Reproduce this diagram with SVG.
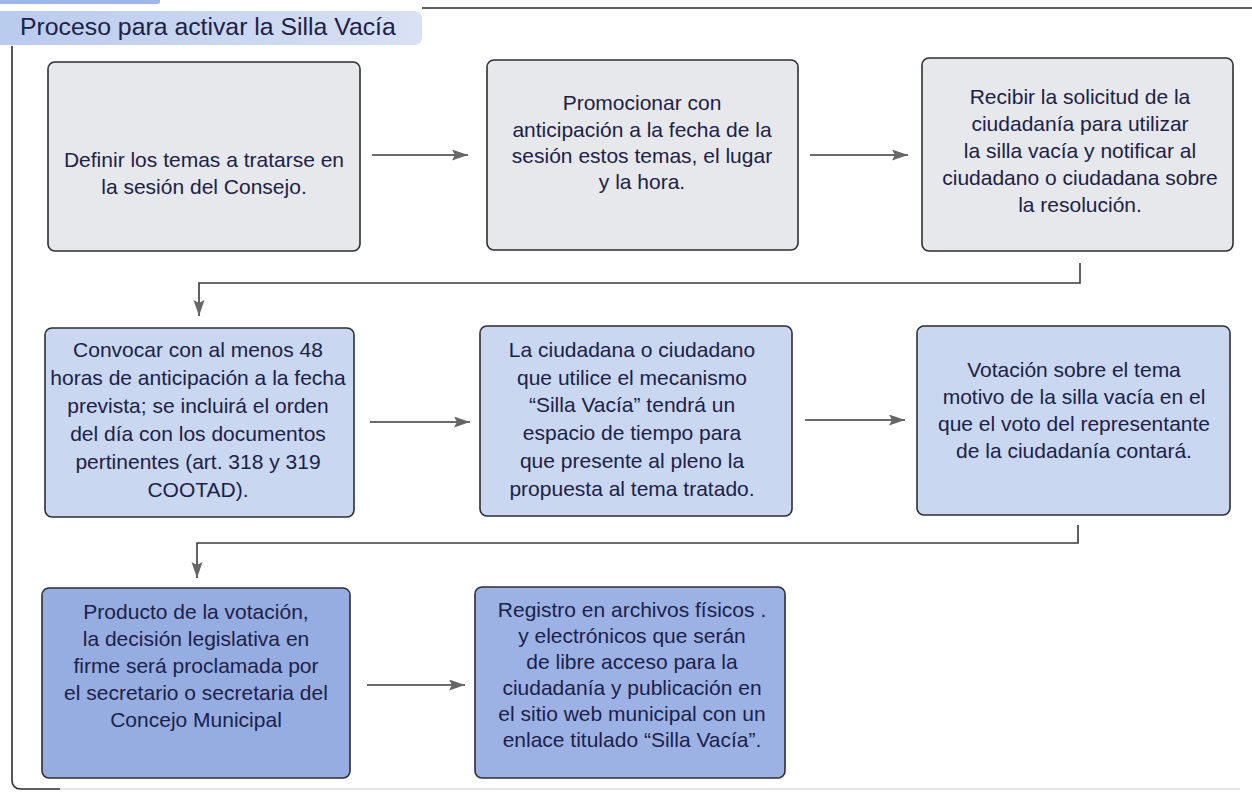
<svg xmlns="http://www.w3.org/2000/svg" width="1252" height="794" viewBox="0 0 1252 794">
<defs>
<linearGradient id="band" x1="0" y1="0" x2="1" y2="0">
<stop offset="0" stop-color="#b9cbec"/>
<stop offset="0.6" stop-color="#cbd8f1"/>
<stop offset="1" stop-color="#d9e2f4"/>
</linearGradient>
<marker id="arr" markerUnits="userSpaceOnUse" markerWidth="17" markerHeight="12" refX="16" refY="5.5" orient="auto">
<path d="M0,0 L16,5.5 L0,11 L3,5.5 z" fill="#666666"/>
</marker>
<style>
.box{stroke:#2e2e33;stroke-width:1.6}
.g{fill:#e6e8eb}
.b{fill:#c9d7f1}
.d{fill:#95ade1}
.t{font-family:"Liberation Sans",Arial,sans-serif;font-size:21px;fill:#1d2148;text-anchor:middle}
.c{fill:none;stroke:#3a3a3a;stroke-width:1.6}
</style>
</defs>
<rect width="1252" height="794" fill="#ffffff"/>
<g id="frame">
<path d="M0,0 H160 V2 Q160,4 156,4 H0 z" fill="#9fb7e6"/>
<path d="M0,11 H414 Q422,11 422,19 V37 Q422,45 414,45 H0 z" fill="url(#band)"/>
<line x1="422" y1="8" x2="1252" y2="8" stroke="#2a2a30" stroke-width="1.6"/>
<path d="M12,46 V780 Q12,789 21,789 H60" fill="none" stroke="#2a2a30" stroke-width="1.6"/>
<line x1="60" y1="789" x2="1240" y2="789" stroke="#c8cbd0" stroke-width="1.2"/>
<text x="20" y="35" font-family="'Liberation Sans',Arial,sans-serif" font-size="24.8" fill="#1d2148">Proceso para activar la Silla Vacía</text>
</g>
<g id="connectors">
<line class="c" x1="372" y1="155" x2="468" y2="155" marker-end="url(#arr)"/>
<line class="c" x1="810" y1="155" x2="908" y2="155" marker-end="url(#arr)"/>
<path class="c" d="M1080,263 V283 H199 V316" marker-end="url(#arr)"/>
<line class="c" x1="370" y1="422" x2="470" y2="422" marker-end="url(#arr)"/>
<line class="c" x1="805" y1="420" x2="905" y2="420" marker-end="url(#arr)"/>
<path class="c" d="M1078,525 V543 H197 V578" marker-end="url(#arr)"/>
<line class="c" x1="367" y1="685" x2="465" y2="685" marker-end="url(#arr)"/>
</g>
<g id="n1">
<rect class="box g" x="48" y="62" width="312" height="189" rx="7"/>
<text class="t" x="204" y="167">Definir los temas a tratarse en</text>
<text class="t" x="204" y="194">la sesión del Consejo.</text>
</g>
<g id="n2">
<rect class="box g" x="487" y="60" width="311" height="190" rx="7"/>
<text class="t" x="642" y="110">Promocionar con</text>
<text class="t" x="642" y="137">anticipación a la fecha de la</text>
<text class="t" x="642" y="163">sesión estos temas, el lugar</text>
<text class="t" x="642" y="189">y la hora.</text>
</g>
<g id="n3">
<rect class="box g" x="922" y="58" width="311" height="193" rx="7"/>
<text class="t" x="1080" y="104">Recibir la solicitud de la</text>
<text class="t" x="1080" y="131">ciudadanía para utilizar</text>
<text class="t" x="1080" y="158">la silla vacía y notificar al</text>
<text class="t" x="1080" y="185">ciudadano o ciudadana sobre</text>
<text class="t" x="1080" y="212">la resolución.</text>
</g>
<g id="n4">
<rect class="box b" x="45" y="328" width="309" height="189" rx="7"/>
<text class="t" x="198" y="357">Convocar con al menos 48</text>
<text class="t" x="198" y="385">horas de anticipación a la fecha</text>
<text class="t" x="198" y="413">prevista; se incluirá el orden</text>
<text class="t" x="198" y="441">del día con los documentos</text>
<text class="t" x="198" y="469">pertinentes (art. 318 y 319</text>
<text class="t" x="198" y="497">COOTAD).</text>
</g>
<g id="n5">
<rect class="box b" x="480" y="326" width="312" height="190" rx="7"/>
<text class="t" x="632" y="357">La ciudadana o ciudadano</text>
<text class="t" x="632" y="385">que utilice el mecanismo</text>
<text class="t" x="632" y="412">“Silla Vacía” tendrá un</text>
<text class="t" x="632" y="440">espacio de tiempo para</text>
<text class="t" x="632" y="468">que presente al pleno la</text>
<text class="t" x="632" y="496">propuesta al tema tratado.</text>
</g>
<g id="n6">
<rect class="box b" x="917" y="326" width="313" height="189" rx="7"/>
<text class="t" x="1074" y="377">Votación sobre el tema</text>
<text class="t" x="1074" y="404">motivo de la silla vacía en el</text>
<text class="t" x="1074" y="431">que el voto del representante</text>
<text class="t" x="1074" y="458">de la ciudadanía contará.</text>
</g>
<g id="n7">
<rect class="box d" x="42" y="588" width="308" height="190" rx="7"/>
<text class="t" x="196" y="619">Producto de la votación,</text>
<text class="t" x="196" y="646">la decisión legislativa en</text>
<text class="t" x="196" y="673">firme será proclamada por</text>
<text class="t" x="196" y="700">el secretario o secretaria del</text>
<text class="t" x="196" y="727">Concejo Municipal</text>
</g>
<g id="n8">
<rect class="box d" x="475" y="587" width="310" height="191" rx="7" style="fill:#9cb2e4"/>
<text class="t" x="632" y="617">Registro en archivos físicos .</text>
<text class="t" x="632" y="643">y electrónicos que serán</text>
<text class="t" x="632" y="669">de libre acceso para la</text>
<text class="t" x="632" y="695">ciudadanía y publicación en</text>
<text class="t" x="632" y="721">el sitio web municipal con un</text>
<text class="t" x="632" y="747">enlace titulado “Silla Vacía”.</text>
</g>
</svg>
